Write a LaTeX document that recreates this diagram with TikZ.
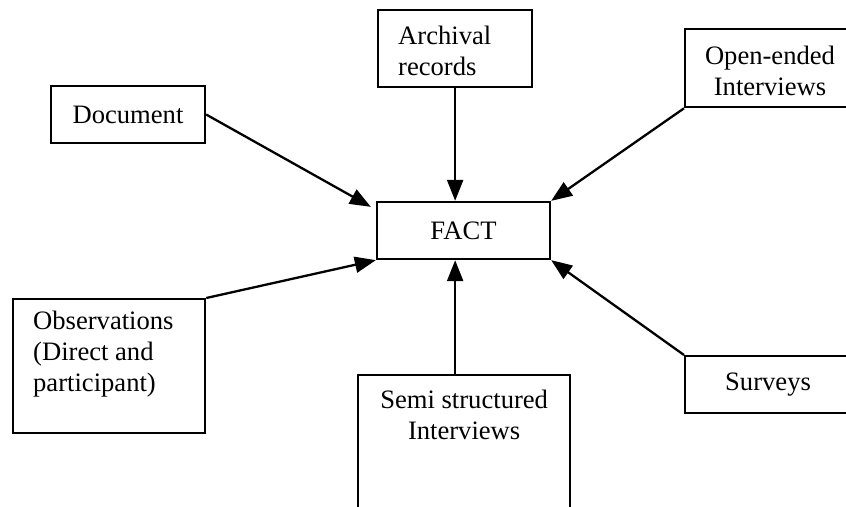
\documentclass[tikz,border=0pt]{standalone}
\usepackage{fontspec}
\setmainfont{Liberation Serif}
\usetikzlibrary{arrows.meta,calc}
\begin{document}
\begin{tikzpicture}[x=1pt,y=-1pt,
  box/.style={draw,line width=2.3pt,inner sep=0pt},
  lbl/.style={font=\fontsize{26.6}{31}\selectfont,inner sep=0pt,align=left},
  clbl/.style={font=\fontsize{26.6}{31}\selectfont,inner sep=0pt,align=center},
  conn/.style={line width=2.3pt,-{Triangle[length=21pt,width=16pt]}}]
\useasboundingbox (0,0) rectangle (846,506);
\clip (0,0) rectangle (846,506);
% boxes
\node[box,minimum width=173,minimum height=57] (fact) at (463.5,230.5) {};
\node[clbl] (factt) at (fact.center) {FACT};
\node[box,minimum width=154,minimum height=57] (doc) at (128,114.5) {};
\node[clbl] (doct) at (doc.center) {Document};
\node[box,minimum width=154,minimum height=77,anchor=north west] (arch) at (377,9) {};
\node[lbl,anchor=west] (archt) at ($(arch.west)+(21,2)$) {Archival\\records};
\node[box,minimum width=180,minimum height=78,anchor=north west] (open) at (684,28) {};
\node[clbl] (opent) at (770,71) {Open-ended\\Interviews};
\node[box,minimum width=192,minimum height=134,anchor=north west] (obs) at (12,298) {};
\node[lbl,anchor=north west] (obst) at ($(obs.north west)+(21,13)$) {Observations\\(Direct and\\participant)};
\node[box,minimum width=180,minimum height=57,anchor=north west] (surv) at (684,355) {};
\node[clbl,anchor=west] (survt) at ($(surv.west)+(41,0)$) {Surveys};
\node[box,minimum width=212,minimum height=160,anchor=north west] (semi) at (357,374) {};
\node[clbl,anchor=north] (semit) at ($(semi.north)+(0,16)$) {Semi structured\\Interviews};
% connectors
\draw[conn] (doc.east) -- ($(fact.north west)+(-5,6)$);
\draw[conn] (arch.south) -- (arch.south |- fact.north);
\draw[conn] (open.south west) -- (fact.north east);
\draw[conn] (obs.north east) -- (fact.south west);
\draw[conn] (surv.north west) -- (fact.south east);
\draw[conn] (arch.south |- semi.north) -- (arch.south |- fact.south);
\end{tikzpicture}
\end{document}
